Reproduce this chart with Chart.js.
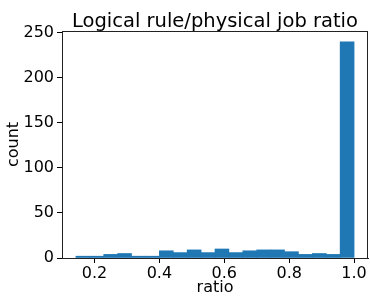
<!DOCTYPE html>
<html>
<head>
<meta charset="utf-8">
<script src="https://cdn.jsdelivr.net/npm/chart.js@4.4.0/dist/chart.umd.min.js"></script>
<style>
  html, body { margin: 0; padding: 0; background: #fff; }
  #wrap { width: 370px; height: 296px; }
</style>
</head>
<body>
<div id="wrap"><canvas id="hist"></canvas></div>
<script>
// ===== DATA =====
const titleText = 'Logical rule/physical job ratio';
const binEdges = [0.1429, 0.1857, 0.2286, 0.2714, 0.3143, 0.3571, 0.4, 0.4429, 0.4857, 0.5286,
                  0.5714, 0.6143, 0.6571, 0.7, 0.7429, 0.7857, 0.8286, 0.8714, 0.9143, 0.9571, 1.0];
const counts = [2, 2, 4, 5, 2, 2, 8, 6, 9, 6, 10, 6, 8, 9, 9, 7, 4, 5, 4, 240];
const xTicks = [0.2, 0.4, 0.6, 0.8, 1.0];
const yTicks = [0, 50, 100, 150, 200, 250];

const FONT = 'DejaVu Sans';

// bins -> {x: centre, y: count}
const points = counts.map((c, i) => ({ x: (binEdges[i] + binEdges[i + 1]) / 2, y: c }));

// title centred over the axes, box around the axes
const axesDecor = {
    id: 'axesDecor',
    afterDraw(chart) {
        const { ctx, chartArea: a } = chart;
        ctx.save();
        ctx.strokeStyle = '#222';
        ctx.lineWidth = 1;
        ctx.strokeRect(Math.round(a.left) + 0.5, Math.round(a.top) + 0.5,
                       Math.round(a.right - a.left) - 1, Math.round(a.bottom - a.top));
        ctx.fillStyle = '#000';
        ctx.font = '19.5px "' + FONT + '"';
        ctx.textAlign = 'center';
        ctx.textBaseline = 'alphabetic';
        ctx.fillText(titleText, (a.left + a.right) / 2, 27);
        ctx.restore();
    }
};

new Chart(document.getElementById('hist'), {
    type: 'bar',
    data: {
        datasets: [{
            data: points,
            backgroundColor: '#1f77b4',
            borderWidth: 0,
            barPercentage: 1,
            categoryPercentage: 1
        }]
    },
    options: {
        responsive: true,
        maintainAspectRatio: false,
        animation: false,
        layout: { padding: { top: 31, right: 2, left: 0, bottom: 0 } },
        plugins: {
            legend: { display: false },
            tooltip: { enabled: false }
        },
        scales: {
            x: {
                type: 'linear',
                offset: false,
                min: 0.1,
                max: 1.0429,
                afterBuildTicks: s => { s.ticks = xTicks.map(v => ({ value: v })); },
                afterFit: s => { s.height = 38; },
                grid: { offset: false, drawOnChartArea: false, tickLength: 5, color: '#000' },
                border: { color: '#222' },
                ticks: {
                    color: '#000', padding: 1, maxRotation: 0,
                    font: { family: FONT, size: 16 },
                    callback: v => v.toFixed(1)
                },
                title: {
                    display: true, text: 'ratio', color: '#000',
                    font: { family: FONT, size: 16, lineHeight: 1.0 },
                    padding: { top: 0, bottom: 0 }
                }
            },
            y: {
                min: 0,
                max: 252,
                afterBuildTicks: s => { s.ticks = yTicks.map(v => ({ value: v })); },
                afterFit: s => { s.width = 62; },
                grid: { drawOnChartArea: false, tickLength: 5, color: '#000' },
                border: { color: '#222' },
                ticks: {
                    color: '#000', padding: 3,
                    font: { family: FONT, size: 16 }
                },
                title: {
                    display: true, text: 'count', color: '#000',
                    font: { family: FONT, size: 16 },
                    padding: { top: 4, bottom: 0 }
                }
            }
        }
    },
    plugins: [axesDecor]
});
</script>
</body>
</html>
